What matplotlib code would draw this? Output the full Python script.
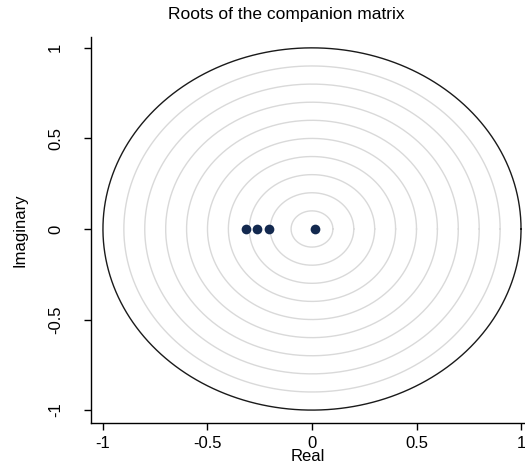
import numpy as np
import matplotlib
matplotlib.use("Agg")
import matplotlib.pyplot as plt

plt.rcParams['font.family'] = ['Liberation Sans', 'DejaVu Sans']

# eigenvalues of the companion matrix
real = [-0.315, -0.262, -0.205, 0.016]
imag = [0.0, 0.0, 0.0, 0.0]
grid_radii = [0.1, 0.2, 0.3, 0.4, 0.5, 0.6, 0.7, 0.8, 0.9]
ticks = [-1, -0.5, 0, 0.5, 1]
tick_labels = ['-1', '-0.5', '0', '0.5', '1']

fig = plt.figure(figsize=(5.25, 4.66), dpi=100)
ax = fig.add_axes([0.173, 0.092, 0.827, 0.829])

theta = np.linspace(0, 2 * np.pi, 400)
for r in grid_radii:
    ax.plot(r * np.cos(theta), r * np.sin(theta), color='#d9d9d9', lw=1.0, zorder=1)
ax.plot(np.cos(theta), np.sin(theta), color='#1a1a1a', lw=1.0, zorder=2)

ax.plot(real, imag, 'o', color='#13294f', markersize=7, zorder=3, markeredgewidth=0)

ax.set_xlim(-1.058, 1.019)
ax.set_ylim(-1.072, 1.061)
ax.set_xticks(ticks)
ax.set_xticklabels(tick_labels)
ax.set_yticks(ticks)
ax.set_yticklabels(tick_labels, rotation=90, va='center')
ax.tick_params(direction='out', length=5, width=1, labelsize=12)
ax.tick_params(axis='x', pad=4)
ax.tick_params(axis='y', pad=15)

for s in ['top', 'right']:
    ax.spines[s].set_visible(False)
for s in ['left', 'bottom']:
    ax.spines[s].set_linewidth(1.0)

ax.set_xlabel('Real', fontsize=12, labelpad=-1)
ax.set_ylabel('Imaginary', fontsize=12)
ax.yaxis.set_label_coords(-0.147, 0.5)
fig.suptitle('Roots of the companion matrix', fontsize=12.5, x=0.545, y=0.985)

fig.savefig('out.png', dpi=100)
